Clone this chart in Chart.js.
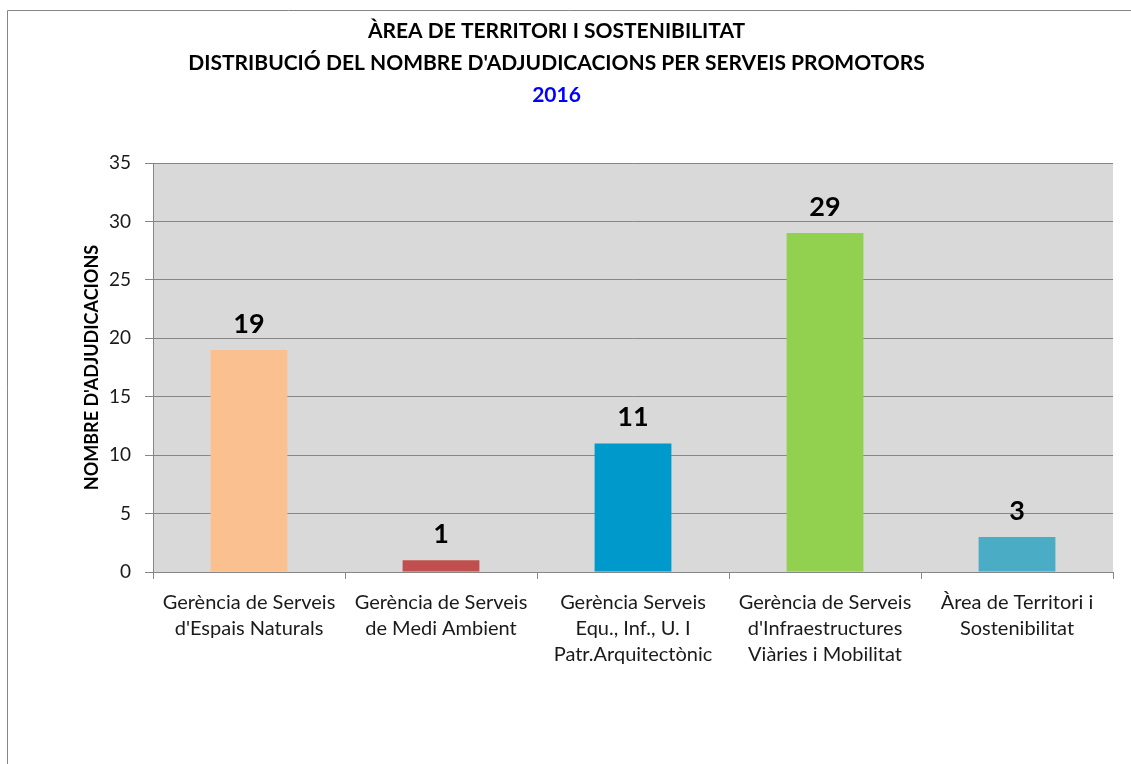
<!DOCTYPE html>
<html>
<head>
<meta charset="utf-8">
<script src="https://cdn.jsdelivr.net/npm/chart.js@4"></script>
<style>
  html, body { margin:0; padding:0; background:#fff; }
  #wrap { width:1131px; height:764px; position:relative; }
</style>
</head>
<body>
<div id="wrap"><canvas id="chart" width="1131" height="764"></canvas></div>
<script>
const titleLines = ["ÀREA DE TERRITORI I SOSTENIBILITAT", "DISTRIBUCIÓ DEL NOMBRE D'ADJUDICACIONS PER SERVEIS PROMOTORS"];
const yearLabel = "2016";
const yTitle = "NOMBRE D'ADJUDICACIONS";

const services = [
  ["Gerència de Serveis", "d'Espais Naturals"],
  ["Gerència de Serveis", "de Medi Ambient"],
  ["Gerència Serveis", "Equ., Inf., U. I", "Patr.Arquitectònic"],
  ["Gerència de Serveis", "d'Infraestructures", "Viàries i Mobilitat"],
  ["Àrea de Territori i", "Sostenibilitat"]
];
const awards = [19, 1, 11, 29, 3];
const barColours = ['#FAC090', '#C0504D', '#0099CC', '#92D050', '#4BACC6'];

const gridGrey = '#868686';
const font = "Lato, 'Liberation Sans', sans-serif";

// grey plot area + the frame of the chart object (only left/top edge visible)
const plotBackground = {
  id: 'plotBackground',
  beforeDraw(chart) {
    const {ctx, chartArea: a} = chart;
    ctx.save();
    ctx.fillStyle = '#D9D9D9';
    ctx.fillRect(a.left, a.top, a.right - a.left, a.bottom - a.top);
    ctx.strokeStyle = gridGrey;
    ctx.lineWidth = 1;
    ctx.beginPath();
    ctx.moveTo(7.5, chart.height);
    ctx.lineTo(7.5, 10.5);
    ctx.lineTo(chart.width, 10.5);
    ctx.stroke();
    ctx.restore();
  }
};

// value labels above the bars
const valueLabels = {
  id: 'valueLabels',
  afterDatasetsDraw(chart) {
    const {ctx} = chart;
    ctx.save();
    ctx.font = "bold 27px " + font;
    ctx.fillStyle = '#000';
    ctx.textAlign = 'center';
    ctx.textBaseline = 'middle';
    chart.getDatasetMeta(0).data.forEach((bar, i) => {
      ctx.fillText(String(awards[i]), bar.x, bar.y - 26);
    });
    ctx.restore();
  }
};

new Chart(document.getElementById('chart'), {
  type: 'bar',
  plugins: [plotBackground, valueLabels],
  data: {
    labels: services,
    datasets: [{
      data: awards,
      backgroundColor: barColours,
      borderWidth: 0,
      categoryPercentage: 1,
      barPercentage: 0.4
    }]
  },
  options: {
    responsive: false,
    animation: false,
    layout: { padding: { left: 0, right: 18, top: 0, bottom: 0 } },
    plugins: {
      legend: { display: false },
      tooltip: { enabled: false },
      title: {
        display: true,
        text: titleLines,
        color: '#000',
        font: { family: font, size: 21, weight: 'bold', lineHeight: '32px' },
        padding: { top: 15, bottom: 0 }
      },
      subtitle: {
        display: true,
        text: yearLabel,
        color: '#0000FF',
        font: { family: font, size: 21, weight: 'bold', lineHeight: '32px' },
        padding: { top: 0, bottom: 52 }
      }
    },
    scales: {
      x: {
        afterFit: s => { s.height = 192; },
        grid: { display: true, drawOnChartArea: false, color: gridGrey, tickLength: 7, offset: true },
        border: { display: true, color: gridGrey },
        ticks: {
          color: '#1a1a1a',
          font: { family: font, size: 20, lineHeight: '26px' },
          padding: 11,
          maxRotation: 0,
          autoSkip: false
        }
      },
      y: {
        min: 0,
        max: 35,
        afterFit: s => { s.width = 153; },
        grid: { color: gridGrey, tickLength: 8 },
        border: { display: true, color: gridGrey },
        ticks: {
          stepSize: 5,
          color: '#1a1a1a',
          font: { family: font, size: 19 },
          padding: 14
        },
        title: {
          display: true,
          text: yTitle,
          color: '#000',
          font: { family: font, size: 18, weight: 'bold', lineHeight: 1.2 },
          padding: { top: 81, bottom: 0 }
        }
      }
    }
  }
});
</script>
</body>
</html>
